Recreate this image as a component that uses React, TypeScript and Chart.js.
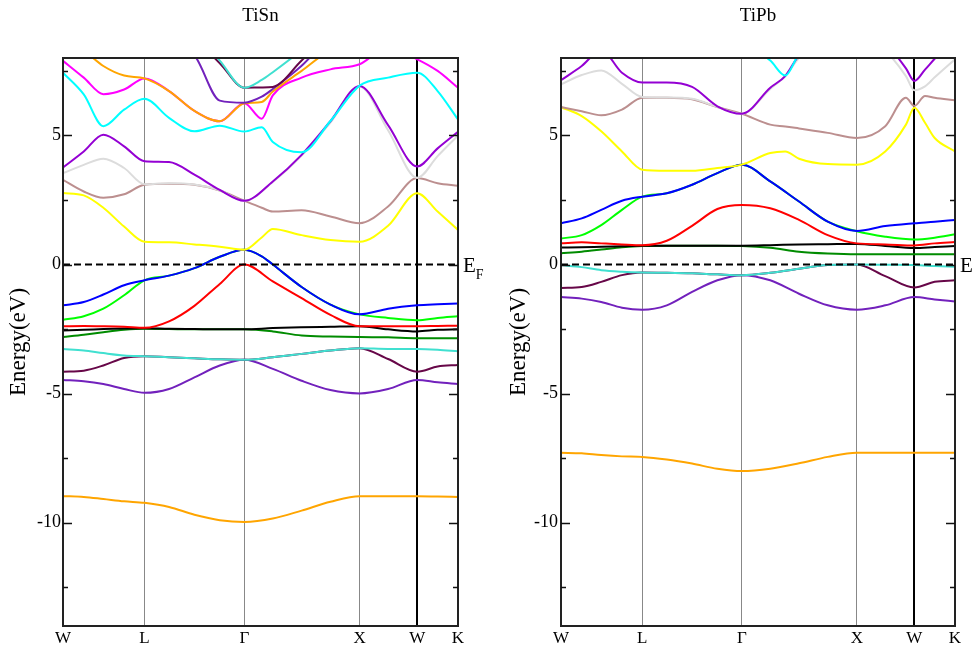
import React, { useEffect, useRef } from 'react';
import { Chart, registerables } from 'chart.js';

Chart.register(...registerables);
Chart.defaults.font.family = '"Liberation Serif", "DejaVu Serif", serif';

// High-symmetry points along the path (k-distance, 2π/a units)
const kPointPos = [0, 0.7071, 1.5731, 2.5731, 3.0731, 3.4267];
const kPointLabels = ['W', 'L', 'Γ', 'X', 'W', 'K'];
const yTickValues = [-12.5, -10, -7.5, -5, -2.5, 0, 2.5, 5, 7.5];
const yMin = -14;
const yMax = 8;

// xmgrace set colours, band 0 = lowest
const bandColors = [
  '#ffa500', '#7221bc', '#670748', '#40e0d0', '#008b00', '#000000', '#ff0000',
  '#00ff00', '#0000ff', '#ffff00', '#bc8f8f', '#dcdcdc', '#9400d3', '#00ffff',
  '#ff00ff', '#ffa500', '#7221bc', '#670748', '#40e0d0',
];

// ---------- TiSn ----------
const kTiSn = [0, 0.18, 0.35, 0.53, 0.7071, 0.92, 1.14, 1.36, 1.5731, 1.724, 1.82, 2.07, 2.32, 2.5731, 2.82, 3.0731, 3.25, 3.4267];
const tiSnB00 = [-8.97, -9.0, -9.08, -9.17, -9.23, -9.39, -9.69, -9.9, -9.97, null, -9.84, -9.53, -9.19, -8.97, -8.97, -8.97, -8.98, -9.0];
const tiSnB01 = [-4.47, -4.52, -4.63, -4.82, -4.97, -4.82, -4.37, -3.91, -3.69, null, -4.04, -4.5, -4.86, -4.99, -4.82, -4.47, -4.56, -4.63];
const tiSnB02 = [-4.15, -4.11, -3.91, -3.62, -3.55, -3.59, -3.63, -3.67, -3.69, null, -3.59, -3.46, -3.33, -3.24, -3.66, -4.15, -3.95, -3.89];
const tiSnB03 = [-3.27, -3.33, -3.43, -3.52, -3.55, -3.59, -3.63, -3.67, -3.69, null, -3.59, -3.46, -3.33, -3.24, -3.27, -3.27, -3.3, -3.36];
const tiSnB04 = [-2.81, -2.72, -2.62, -2.53, -2.49, -2.5, -2.51, -2.51, -2.51, null, -2.59, -2.75, -2.79, -2.81, -2.82, -2.85, -2.85, -2.85];
const tiSnB05 = [-2.55, -2.53, -2.5, -2.48, -2.47, -2.49, -2.5, -2.51, -2.51, null, -2.46, -2.43, -2.41, -2.39, -2.51, -2.59, -2.53, -2.51];
const tiSnB06 = [-2.39, -2.38, -2.39, -2.41, -2.45, -2.2, -1.6, -0.75, 0.0, null, -0.65, -1.3, -1.95, -2.39, -2.39, -2.39, -2.38, -2.37];
const tiSnB07 = [-2.14, -2.0, -1.71, -1.19, -0.61, -0.43, -0.14, 0.3, 0.57, 0.32, 0.0, -0.87, -1.55, -1.93, -2.07, -2.16, -2.07, -2.0];
const tiSnB08 = [-1.58, -1.45, -1.16, -0.8, -0.61, -0.43, -0.14, 0.3, 0.57, 0.32, 0.0, -0.87, -1.55, -1.93, -1.71, -1.58, -1.54, -1.51];
const tiSnB09 = [2.77, 2.68, 2.2, 1.47, 0.88, 0.86, 0.78, 0.69, 0.57, 1.05, 1.38, 1.14, 0.95, 0.88, 1.5, 2.76, 2.05, 1.34];
const tiSnB10 = [3.28, 2.83, 2.59, 2.72, 3.09, 3.13, 3.09, 2.87, 2.47, 2.2, 2.05, 2.1, 1.86, 1.6, 2.25, 3.35, 3.15, 3.05];
const tiSnB11 = [3.54, 3.86, 4.1, 3.74, 3.11, 3.15, 3.1, 2.88, 2.47, null, 3.2, 4.22, 5.5, 6.9, 5.2, 3.36, 4.2, 5.0];
const tiSnB12 = [3.76, 4.38, 5.03, 4.58, 4.0, 3.97, 3.48, 2.89, 2.47, null, 3.22, 4.25, 5.55, 6.92, 5.4, 3.8, 4.5, 5.14];
const tiSnB13 = [7.43, 6.59, 5.36, 6.0, 6.42, 5.68, 5.16, 5.38, 5.15, 5.32, 4.75, 4.35, 5.56, 6.93, 7.24, 7.43, 6.72, 5.62];
const tiSnB14 = [7.89, 7.24, 6.6, 6.78, 7.21, 6.72, 5.95, 5.55, 6.25, 5.65, 6.55, 7.24, 7.56, 7.76, 8.4, 7.95, 7.5, 6.85];
const tiSnB15 = [8.8, 8.3, 7.69, 7.32, 7.21, 6.72, 5.95, 5.55, 6.25, 6.3, 6.7, 7.5, 8.3, 8.6, 8.8, 8.8, 8.9, 9.0];
const tiSnB16 = [9.5, 9.3, 9.0, 8.8, 8.6, 8.5, 8.1, 6.35, 6.27, 6.5, 6.8, 7.7, 8.8, 9.3, 9.5, 9.5, 9.5, 9.5];
const tiSnB17 = [9.8, 9.6, 9.4, 9.2, 9.0, 8.9, 8.7, 7.8, 6.85, 6.86, 6.88, 7.9, 9.0, 9.5, 9.8, 9.8, 9.8, 9.8];
const tiSnB18 = [10, 9.9, 9.7, 9.5, 9.3, 9.2, 9.0, 7.9, 6.85, 7.15, 7.45, 8.3, 9.2, 9.6, 10, 10, 10, 10];
const tiSnBands = [tiSnB00, tiSnB01, tiSnB02, tiSnB03, tiSnB04, tiSnB05, tiSnB06, tiSnB07, tiSnB08, tiSnB09,
  tiSnB10, tiSnB11, tiSnB12, tiSnB13, tiSnB14, tiSnB15, tiSnB16, tiSnB17, tiSnB18];

// ---------- TiPb ----------
const kTiPb = [0, 0.18, 0.35, 0.53, 0.7071, 0.92, 1.14, 1.36, 1.5731, 1.82, 1.95, 2.07, 2.32, 2.5731, 2.82, 3.0, 3.0731, 3.166, 3.25, 3.4267];
const tiPbB00 = [-7.29, -7.31, -7.38, -7.43, -7.45, -7.55, -7.71, -7.91, -8.0, -7.91, null, -7.7, -7.45, -7.29, -7.29, null, -7.29, null, -7.29, -7.29];
const tiPbB01 = [-1.26, -1.32, -1.45, -1.67, -1.75, -1.58, -1.06, -0.61, -0.41, -0.61, null, -1.13, -1.58, -1.75, -1.58, null, -1.26, null, -1.35, -1.43];
const tiPbB02 = [-0.91, -0.87, -0.67, -0.41, -0.31, -0.32, -0.34, -0.38, -0.41, -0.32, null, -0.16, -0.02, 0.0, -0.45, null, -0.89, null, -0.67, -0.61];
const tiPbB03 = [-0.02, -0.1, -0.22, -0.28, -0.31, -0.32, -0.34, -0.38, -0.41, -0.32, null, -0.16, -0.02, 0.0, -0.01, null, -0.02, null, -0.06, -0.09];
const tiPbB04 = [0.44, 0.5, 0.58, 0.67, 0.72, 0.73, 0.73, 0.73, 0.72, 0.65, null, 0.5, 0.43, 0.4, 0.4, null, 0.4, null, 0.4, 0.4];
const tiPbB05 = [0.66, 0.67, 0.69, 0.71, 0.73, 0.73, 0.73, 0.73, 0.73, 0.75, null, 0.78, 0.79, 0.8, 0.72, null, 0.64, null, 0.68, 0.72];
const tiPbB06 = [0.82, 0.86, 0.82, 0.78, 0.75, 0.92, 1.5, 2.15, 2.31, 2.18, null, 1.73, 1.14, 0.82, 0.78, null, 0.74, null, 0.82, 0.87];
const tiPbB07 = [1.01, 1.14, 1.53, 2.12, 2.63, 2.76, 3.09, 3.54, 3.87, 3.22, null, 2.44, 1.66, 1.29, 1.08, null, 0.97, null, 1.04, 1.17];
const tiPbB08 = [1.6, 1.79, 2.12, 2.47, 2.63, 2.76, 3.09, 3.54, 3.87, 3.22, null, 2.44, 1.66, 1.3, 1.49, null, 1.6, null, 1.66, 1.73];
const tiPbB09 = [6.1, 5.75, 5.16, 4.38, 3.67, 3.63, 3.63, 3.74, 3.87, 4.32, 4.38, 4.1, 3.89, 3.87, 4.38, 5.42, 6.07, 5.49, 4.9, 4.38];
const tiPbB10 = [6.1, 5.94, 5.78, 6.0, 6.46, 6.46, 6.4, 6.1, 5.84, 5.42, 5.35, 5.27, 5.1, 4.9, 5.36, 6.46, 6.14, 6.53, 6.46, 6.36];
const tiPbB11 = [6.98, 7.34, 7.52, 7.0, 6.49, 6.47, 6.42, 6.1, 5.84, 6.8, 7.3, 8.0, 8.8, 9.2, 8.3, 7.3, 6.75, 6.9, 7.25, 7.95];
const tiPbB12 = [7.14, 7.69, 8.3, 7.43, 7.05, 7.05, 6.88, 6.13, 5.84, 6.85, 7.3, 8.1, 8.9, 9.5, 8.6, 7.6, 7.11, 7.55, 7.97, 8.8];
const tiPbB13 = [8.8, 8.6, 8.5, 8.4, 8.3, 8.2, 8.02, 8.2, 8.6, 7.9, 7.32, 8.15, 8.9, 9.6, 9.2, 9.0, 8.9, 9.0, 9.1, 9.3];
const tiPbBands = [tiPbB00, tiPbB01, tiPbB02, tiPbB03, tiPbB04, tiPbB05, tiPbB06, tiPbB07, tiPbB08, tiPbB09,
  tiPbB10, tiPbB11, tiPbB12, tiPbB13];

const serif = '"Liberation Serif", "DejaVu Serif", serif';

const framePlugin = {
  id: 'bandFrame',
  afterDatasetsDraw(chart: any) {
    const { ctx, chartArea: a, scales } = chart;
    const y = scales.y;
    ctx.save();
    ctx.strokeStyle = '#222';
    ctx.lineWidth = 2;
    ctx.strokeRect(a.left, a.top, a.right - a.left, a.bottom - a.top);
    ctx.lineWidth = 1.5;
    ctx.strokeStyle = '#111';
    for (const v of yTickValues) {
      const p = Math.round(y.getPixelForValue(v)) + 0.5;
      const len = v % 5 === 0 ? 9 : 5;
      ctx.beginPath();
      ctx.moveTo(a.left, p);
      ctx.lineTo(a.left + len, p);
      ctx.moveTo(a.right, p);
      ctx.lineTo(a.right - len, p);
      ctx.stroke();
    }
    const z = y.getPixelForValue(0);
    ctx.fillStyle = '#000';
    ctx.textBaseline = 'alphabetic';
    ctx.textAlign = 'left';
    ctx.font = '21px ' + serif;
    ctx.fillText('E', a.right + 5, z + 7.5);
    const w = ctx.measureText('E').width;
    ctx.font = '14px ' + serif;
    ctx.fillText('F', a.right + 5 + w, z + 14);
    ctx.restore();
  },
};

function makeChart(canvas: HTMLCanvasElement, cfg: any) {
  const kMax = kPointPos[kPointPos.length - 1];
  const datasets: any[] = cfg.bands.map((b: (number | null)[], i: number) => ({
    data: cfg.k.map((x: number, j: number) => ({ x, y: b[j] })),
    borderColor: bandColors[i],
    borderWidth: 2,
    pointRadius: 0,
    spanGaps: true,
    cubicInterpolationMode: 'monotone',
    fill: false,
    order: 100 - i,
  }));
  datasets.push({
    data: [{ x: 0, y: 0 }, { x: kMax, y: 0 }],
    borderColor: '#000',
    borderWidth: 2,
    borderDash: [7, 4],
    pointRadius: 0,
    fill: false,
    order: 0,
  });
  return new Chart(canvas, {
    type: 'line',
    data: { datasets },
    options: {
      responsive: false,
      animation: false,
      devicePixelRatio: 1,
      layout: { padding: { left: 0, right: cfg.rightPad, top: 0, bottom: 0 } },
      plugins: {
        legend: { display: false },
        tooltip: { enabled: false },
        title: {
          display: true,
          text: cfg.title,
          fullSize: false,
          color: '#000',
          font: { family: serif, size: 19, weight: 'normal' },
          padding: { top: 4.6, bottom: 30.6 },
        },
      },
      scales: {
        x: {
          type: 'linear',
          min: 0,
          max: kMax,
          afterBuildTicks: (s: any) => { s.ticks = kPointPos.map((v) => ({ value: v })); },
          afterFit: (s: any) => { s.height = 22; },
          ticks: {
            autoSkip: false,
            maxRotation: 0,
            padding: 2,
            color: '#000',
            font: { family: serif, size: 17 },
            callback: (_v: any, i: number) => kPointLabels[i],
          },
          grid: {
            color: (c: any) => (c.index === 4 ? '#000' : '#888'),
            lineWidth: (c: any) => (c.index === 4 ? 2 : 1),
            drawTicks: false,
          },
          border: { display: false },
        },
        y: {
          type: 'linear',
          min: yMin,
          max: yMax,
          afterBuildTicks: (s: any) => { s.ticks = yTickValues.map((v) => ({ value: v })); },
          afterFit: (s: any) => { s.width = cfg.axisWidth; },
          ticks: {
            padding: cfg.tickPad,
            color: '#000',
            font: { family: serif, size: 18 },
            callback: (v: any) => (Number(v) % 5 === 0 ? String(v) : ''),
          },
          grid: { display: false, drawTicks: false },
          border: { display: false },
          title: {
            display: true,
            text: 'Energy(eV)',
            color: '#000',
            font: { family: serif, size: 23 },
            padding: { top: cfg.titlePad, bottom: 0 },
          },
        },
      },
    } as any,
    plugins: [framePlugin],
  } as any);
}

export default function App() {
  const leftRef = useRef<HTMLCanvasElement>(null);
  const rightRef = useRef<HTMLCanvasElement>(null);
  useEffect(() => {
    const c1 = makeChart(leftRef.current!, {
      title: 'TiSn', k: kTiSn, bands: tiSnBands, axisWidth: 63, rightPad: 28, tickPad: 2, titlePad: 5,
    });
    const c2 = makeChart(rightRef.current!, {
      title: 'TiPb', k: kTiPb, bands: tiPbBands, axisWidth: 75, rightPad: 17, tickPad: 3, titlePad: 19,
    });
    return () => { c1.destroy(); c2.destroy(); };
  }, []);
  return (
    <div style={{ position: 'absolute', left: 0, top: 0, width: 972, height: 648, background: '#fff', overflow: 'hidden' }}>
      <canvas ref={leftRef} width={486} height={648} style={{ position: 'absolute', left: 0, top: 0, display: 'block' }} />
      <canvas ref={rightRef} width={486} height={648} style={{ position: 'absolute', left: 486, top: 0, display: 'block' }} />
    </div>
  );
}
